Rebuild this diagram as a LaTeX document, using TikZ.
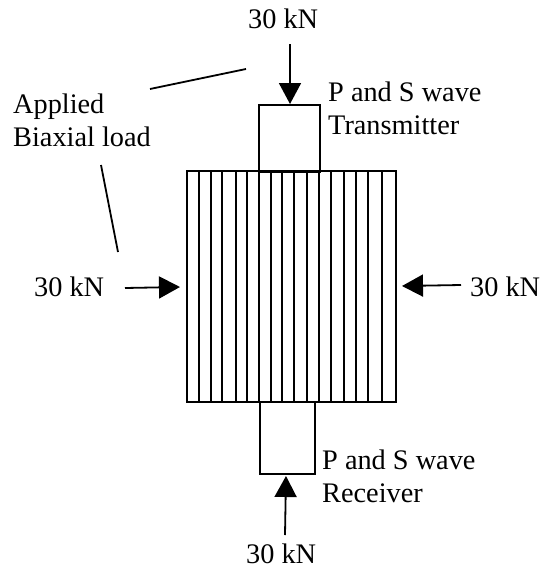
\documentclass[tikz,border=0pt]{standalone}
\usepackage{fontspec}
\setmainfont{Liberation Serif}
\usetikzlibrary{arrows.meta}
\tikzset{
 lbl/.style={inner sep=0pt,font=\fontsize{28.3pt}{33pt}\selectfont,align=left},
 box/.style={draw=black,line width=2pt,inner sep=0pt,outer sep=0pt},
 arr/.style={line width=1.8pt,-{Triangle[length=21pt,width=22pt]}},
 ln/.style={line width=1.8pt},
 stripe/.style={line width=1.6pt}
}
\begin{document}
\begin{tikzpicture}[x=1pt,y=-1pt]
\useasboundingbox (0,0) rectangle (541,570);
\foreach \x in {199,211,222,236,247,259,271,282,294,307,319,331,344,356,368,382}{
 \draw[stripe] (\x,171) -- (\x,402);}
\node[box,minimum width=209pt,minimum height=231pt,anchor=north west] (plate) at (187,171) {};
\node[box,minimum width=61pt,minimum height=67pt,anchor=north west] (tx) at (259,105) {};
\node[box,minimum width=55pt,minimum height=72pt,anchor=north west] (rx) at (260,402) {};
\node[lbl,anchor=west] (ttop) at (248,19) {30 kN};
\node[lbl,anchor=west] (tbot) at (246,554) {30 kN};
\node[lbl,anchor=west] (tleft) at (34,287) {30 kN};
\node[lbl,anchor=west] (tright) at (470,287) {30 kN};
\node[lbl,anchor=north west] (applied) at (13,94) {Applied\\Biaxial load};
\node[lbl,anchor=north west] (ptx) at (328,82) {P and S wave\\Transmitter};
\node[lbl,anchor=north west] (prx) at (322,450) {P and S wave\\Receiver};
\coordinate (a1) at (290,44); \coordinate (a2) at (290,104);
\coordinate (b1) at (285,535); \coordinate (b2) at (286,476);
\coordinate (c1) at (125,288); \coordinate (c2) at (180,287);
\coordinate (d1) at (461,285); \coordinate (d2) at (402,286);
\draw[arr] (a1) -- (a2);
\draw[arr] (b1) -- (b2);
\draw[arr] (c1) -- (c2);
\draw[arr] (d1) -- (d2);
\coordinate (e1) at (150,89); \coordinate (e2) at (246,69);
\coordinate (f1) at (101,165); \coordinate (f2) at (118,252);
\draw[ln] (e1) -- (e2);
\draw[ln] (f1) -- (f2);
\end{tikzpicture}
\end{document}
